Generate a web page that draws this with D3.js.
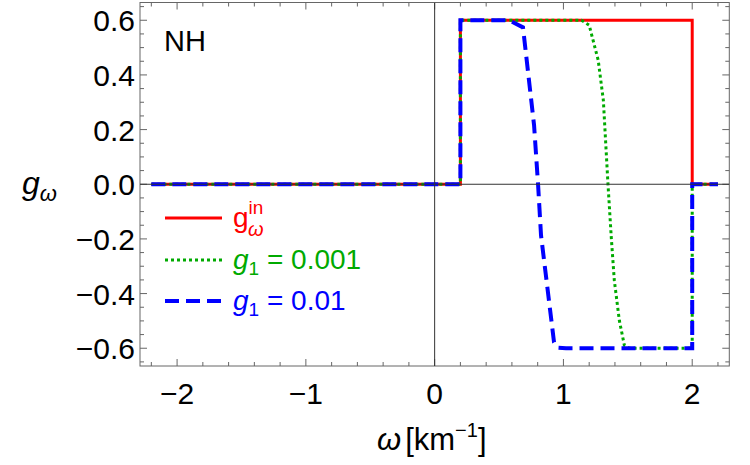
<!DOCTYPE html>
<html><head><meta charset="utf-8">
<script src="https://cdn.jsdelivr.net/npm/d3@7"></script>
<style>
html,body{margin:0;padding:0;background:#fff;}
text{font-family:"Liberation Sans",Arial,sans-serif;}
</style></head>
<body>
<svg id="c" width="750" height="465"></svg>
<script>
// ---- data ----
const xIn   = [-2.2, 0.2, 0.2, 2.0, 2.0, 2.2];
const yIn   = [0, 0, 0.6, 0.6, 0, 0];
const xG001 = [-2.2, 0.2, 0.2, 1.14, 1.2, 1.27, 1.31, 1.346, 1.372, 1.395, 1.434, 1.473, 1.512, 2.0, 2.0, 2.2];
const yG001 = [0, 0, 0.6, 0.6, 0.582, 0.454, 0.307, 0.0, -0.198, -0.351, -0.498, -0.589, -0.6, -0.6, 0, 0];
const xG01  = [-2.2, 0.2, 0.2, 0.577, 0.686, 0.772, 0.803, 0.826, 0.927, 0.96, 1.02, 2.0, 2.0, 2.2];
const yG01  = [0, 0, 0.6, 0.6, 0.574, 0.216, 0.0, -0.187, -0.578, -0.598, -0.6, -0.6, 0, 0];
const xTicksMajor = [-2, -1, 0, 1, 2];
const xTickLabels = ["\u22122", "\u22121", "0", "1", "2"];
const yTicksMajor = [-0.6, -0.4, -0.2, 0.0, 0.2, 0.4, 0.6];
const yTickLabels = ["\u22120.6", "\u22120.4", "\u22120.2", "0.0", "0.2", "0.4", "0.6"];
const seriesNames = ["in", "0.001", "0.01"];

const svg = d3.select("#c");
const L = 140, R = 729.3, T = 2.5, B = 366;
const x = d3.scaleLinear().domain([-2.288, 2.288]).range([L, R]);
const y = d3.scaleLinear().domain([-0.665, 0.665]).range([B, T]);

const frameCol = "#666";
svg.append("rect").attr("x", L).attr("y", T).attr("width", R - L).attr("height", B - T)
  .attr("fill", "none").attr("stroke", frameCol).attr("stroke-width", 1);

const xMinor = d3.range(-22, 23, 2).map(d => d / 10);
const yMinor = d3.range(-13, 14, 1).map(d => d * 0.05);
const isMajX = v => Math.abs(v - Math.round(v)) < 1e-6;
const isMajY = v => Math.abs(v / 0.2 - Math.round(v / 0.2)) < 1e-6;
const tg = svg.append("g").attr("stroke", frameCol).attr("stroke-width", 1);
xMinor.forEach(v => {
  const len = isMajX(v) ? 7 : 4;
  const px = x(v);
  tg.append("line").attr("x1", px).attr("x2", px).attr("y1", B).attr("y2", B - len);
  tg.append("line").attr("x1", px).attr("x2", px).attr("y1", T).attr("y2", T + len);
});
yMinor.forEach(v => {
  if (Math.abs(v) > 0.665) return;
  const len = isMajY(v) ? 7 : 4;
  const py = y(v);
  tg.append("line").attr("x1", L).attr("x2", L + len).attr("y1", py).attr("y2", py);
  tg.append("line").attr("x1", R).attr("x2", R - len).attr("y1", py).attr("y2", py);
});

const fs = 30;
xTicksMajor.forEach((v, i) => {
  svg.append("text").attr("x", x(v)).attr("y", 404).attr("text-anchor", "middle")
    .attr("font-size", fs).text(xTickLabels[i]);
});
yTicksMajor.forEach((v, i) => {
  svg.append("text").attr("x", 135).attr("y", y(v) + 11).attr("text-anchor", "end")
    .attr("font-size", fs).text(yTickLabels[i]);
});

const mk = (xs, ys) => xs.map((d, i) => [d, ys[i]]);
const line = d3.line().x(d => x(d[0])).y(d => y(d[1]));
svg.append("defs").append("clipPath").attr("id", "pc")
  .append("rect").attr("x", L).attr("y", T).attr("width", R - L).attr("height", B - T);
const pg = svg.append("g").attr("clip-path", "url(#pc)");
pg.append("path").datum(mk(xIn, yIn)).attr("d", line).attr("fill", "none")
  .attr("stroke", "#ff0000").attr("stroke-width", 3);
pg.append("path").datum(mk(xG001, yG001)).attr("d", line).attr("fill", "none")
  .attr("stroke", "#00aa00").attr("stroke-width", 3).attr("stroke-dasharray", "3,3");
pg.append("path").datum(mk(xG01, yG01)).attr("d", line).attr("fill", "none")
  .attr("stroke", "#0000ff").attr("stroke-width", 4).attr("stroke-dasharray", "14,7");

pg.append("line").attr("x1", L).attr("x2", R).attr("y1", y(0)).attr("y2", y(0))
  .attr("stroke", "#333").attr("stroke-width", 1);
pg.append("line").attr("x1", x(0)).attr("x2", x(0)).attr("y1", T).attr("y2", B)
  .attr("stroke", "#333").attr("stroke-width", 1);

svg.append("text").attr("x", 164).attr("y", 51).attr("font-size", 29).text("NH");

const yl = svg.append("text").attr("x", 22).attr("y", 194).attr("font-size", 32);
yl.append("tspan").attr("font-style", "italic").text("g");
yl.append("tspan").attr("font-style", "italic").attr("font-size", 22).attr("dy", 7).text("\u03c9");

const xl = svg.append("text").attr("x", 377).attr("y", 450).attr("font-size", 31);
xl.append("tspan").attr("font-style", "italic").text("\u03c9");
xl.append("tspan").attr("dx", 4).text("[km");
xl.append("tspan").attr("font-size", 20).attr("dy", -13).text("\u22121");
xl.append("tspan").attr("dy", 13).text("]");

const lfs = 28;
const lx1 = 165, lx2 = 222, tx = 233;
const ly = [218, 260, 301];
svg.append("line").attr("x1", lx1).attr("x2", lx2).attr("y1", ly[0]).attr("y2", ly[0])
  .attr("stroke", "#ff0000").attr("stroke-width", 3);
svg.append("line").attr("x1", lx1).attr("x2", lx2).attr("y1", ly[1]).attr("y2", ly[1])
  .attr("stroke", "#00aa00").attr("stroke-width", 3).attr("stroke-dasharray", "3,3");
svg.append("line").attr("x1", lx1).attr("x2", lx2).attr("y1", ly[2]).attr("y2", ly[2])
  .attr("stroke", "#0000ff").attr("stroke-width", 4).attr("stroke-dasharray", "14,7");

const t0 = svg.append("text").attr("x", tx).attr("y", 227).attr("font-size", lfs).attr("fill", "#ff0000");
t0.append("tspan").text("g");
t0.append("tspan").attr("font-size", 19).attr("dy", -13).text(seriesNames[0]);
t0.append("tspan").attr("font-size", 20).attr("font-style", "italic").attr("x", tx + 15).attr("dy", 22).text("\u03c9");

[[1, "#00aa00", 269], [2, "#0000ff", 310]].forEach(([k, col, by]) => {
  const t = svg.append("text").attr("x", tx).attr("y", by).attr("font-size", lfs).attr("fill", col);
  t.append("tspan").attr("font-style", "italic").text("g");
  t.append("tspan").attr("font-size", 19).attr("dy", 6).text("1");
  t.append("tspan").attr("dy", -6).text(" = " + seriesNames[k]);
});
</script>
</body></html>
